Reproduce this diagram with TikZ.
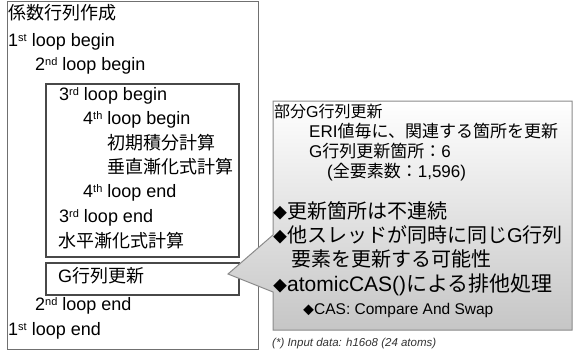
\documentclass[tikz,border=0pt]{standalone}
\usepackage{fontspec}
\setmainfont{Liberation Sans}
\newfontfamily\jp{Noto Sans CJK JP}
\definecolor{outerc}{HTML}{707070}
\definecolor{innerc}{HTML}{484848}
\definecolor{callc}{HTML}{8A8A8A}
\newcommand{\bdia}{{\fontsize{14}{14}\selectfont\jp ◆}}
\newcommand{\sdia}{{\fontsize{11}{11}\selectfont\jp ◆}}
\newcommand{\supx}[1]{\raisebox{5.5pt}{\fontsize{11}{11}\selectfont #1}}
\begin{document}
\begin{tikzpicture}[x=1pt,y=-1pt,
  lt/.style={anchor=west,inner sep=0pt,font=\fontsize{18}{20}\selectfont,text height=0.72em,text depth=0.2em},
  ht/.style={anchor=west,inner sep=0pt,font=\fontsize{16}{18}\selectfont,text height=0.72em,text depth=0.2em},
  rt/.style={anchor=west,inner sep=0pt,font=\fontsize{17}{19}\selectfont,text height=0.72em,text depth=0.2em},
  bt/.style={anchor=west,inner sep=0pt,font=\fontsize{20}{22}\selectfont,text height=0.72em,text depth=0.2em},
  st/.style={anchor=west,inner sep=0pt,font=\fontsize{15.5}{17}\selectfont,text height=0.72em,text depth=0.2em},
  fn/.style={anchor=west,inner sep=0pt,font=\fontsize{11.5}{13}\selectfont\itshape,text height=0.72em,text depth=0.2em,text=black!80},
  outerbox/.style={draw=outerc,line width=1pt},
  innerbox/.style={draw=innerc,line width=1.2pt},
  callout/.style={draw=callc,line width=1pt,top color=white,bottom color=gray!45}]
\useasboundingbox (0,0) rectangle (574,351);
% left block
\draw[outerbox] (7,1.5) rectangle (258,349.5);
\draw[innerbox] (46,84) rectangle (239,257);
\draw[innerbox] (46,263) rectangle (239,295);
\node[lt] (t0) at (8,17) {\jp 係数行列作成};
\node[lt] (t1) at (8,44) {1\supx{st} loop begin};
\node[lt] (t2) at (35,68) {2\supx{nd} loop begin};
\node[lt] (t3) at (59,98) {3\supx{rd} loop begin};
\node[lt] (t4) at (83,122) {4\supx{th} loop begin};
\node[lt] (t5) at (107,147) {\jp 初期積分計算};
\node[lt] (t6) at (107,171) {\jp 垂直漸化式計算};
\node[lt] (t7) at (83,195) {4\supx{th} loop end};
\node[lt] (t8) at (59,220) {3\supx{rd} loop end};
\node[lt] (t9) at (58,245) {\jp 水平漸化式計算};
\node[lt] (t10) at (58,280) {G{\jp 行列更新}};
\node[lt] (t11) at (35,308) {2\supx{nd} loop end};
\node[lt] (t12) at (8,333) {1\supx{st} loop end};
% callout
\coordinate (tip) at (228,274);
\draw[callout] (273,101) -- (572,101) -- (572,330) -- (273,330) -- (273,292) -- (tip) -- (273,235) -- cycle;
\node[ht] (r0) at (274,115) {{\jp 部分}G{\jp 行列更新}};
\node[rt] (r1) at (309,135) {ERI{\jp 値毎に、関連する箇所を更新}};
\node[rt] (r2) at (309,155) {G{\jp 行列更新箇所：}6};
\node[rt] (r3) at (327,175) {({\jp 全要素数：}1,596)};
\node[bt] (b1) at (273,216) {\bdia{\jp 更新箇所は不連続}};
\node[bt] (b2) at (273,240) {\bdia{\jp 他スレッドが同時に同じ}G{\jp 行列}};
\node[bt] (b3) at (291,264) {{\jp 要素を更新する可能性}};
\node[bt,font=\fontsize{21}{23}\selectfont] (b4) at (273,289) {\bdia atomicCAS(){\jp による排他処理}};
\node[st] (b5) at (303,312) {\sdia CAS: Compare And Swap};
\node[fn] (fn) at (272,344) {(*) Input data: h16o8 (24 atoms)};
\end{tikzpicture}
\end{document}
